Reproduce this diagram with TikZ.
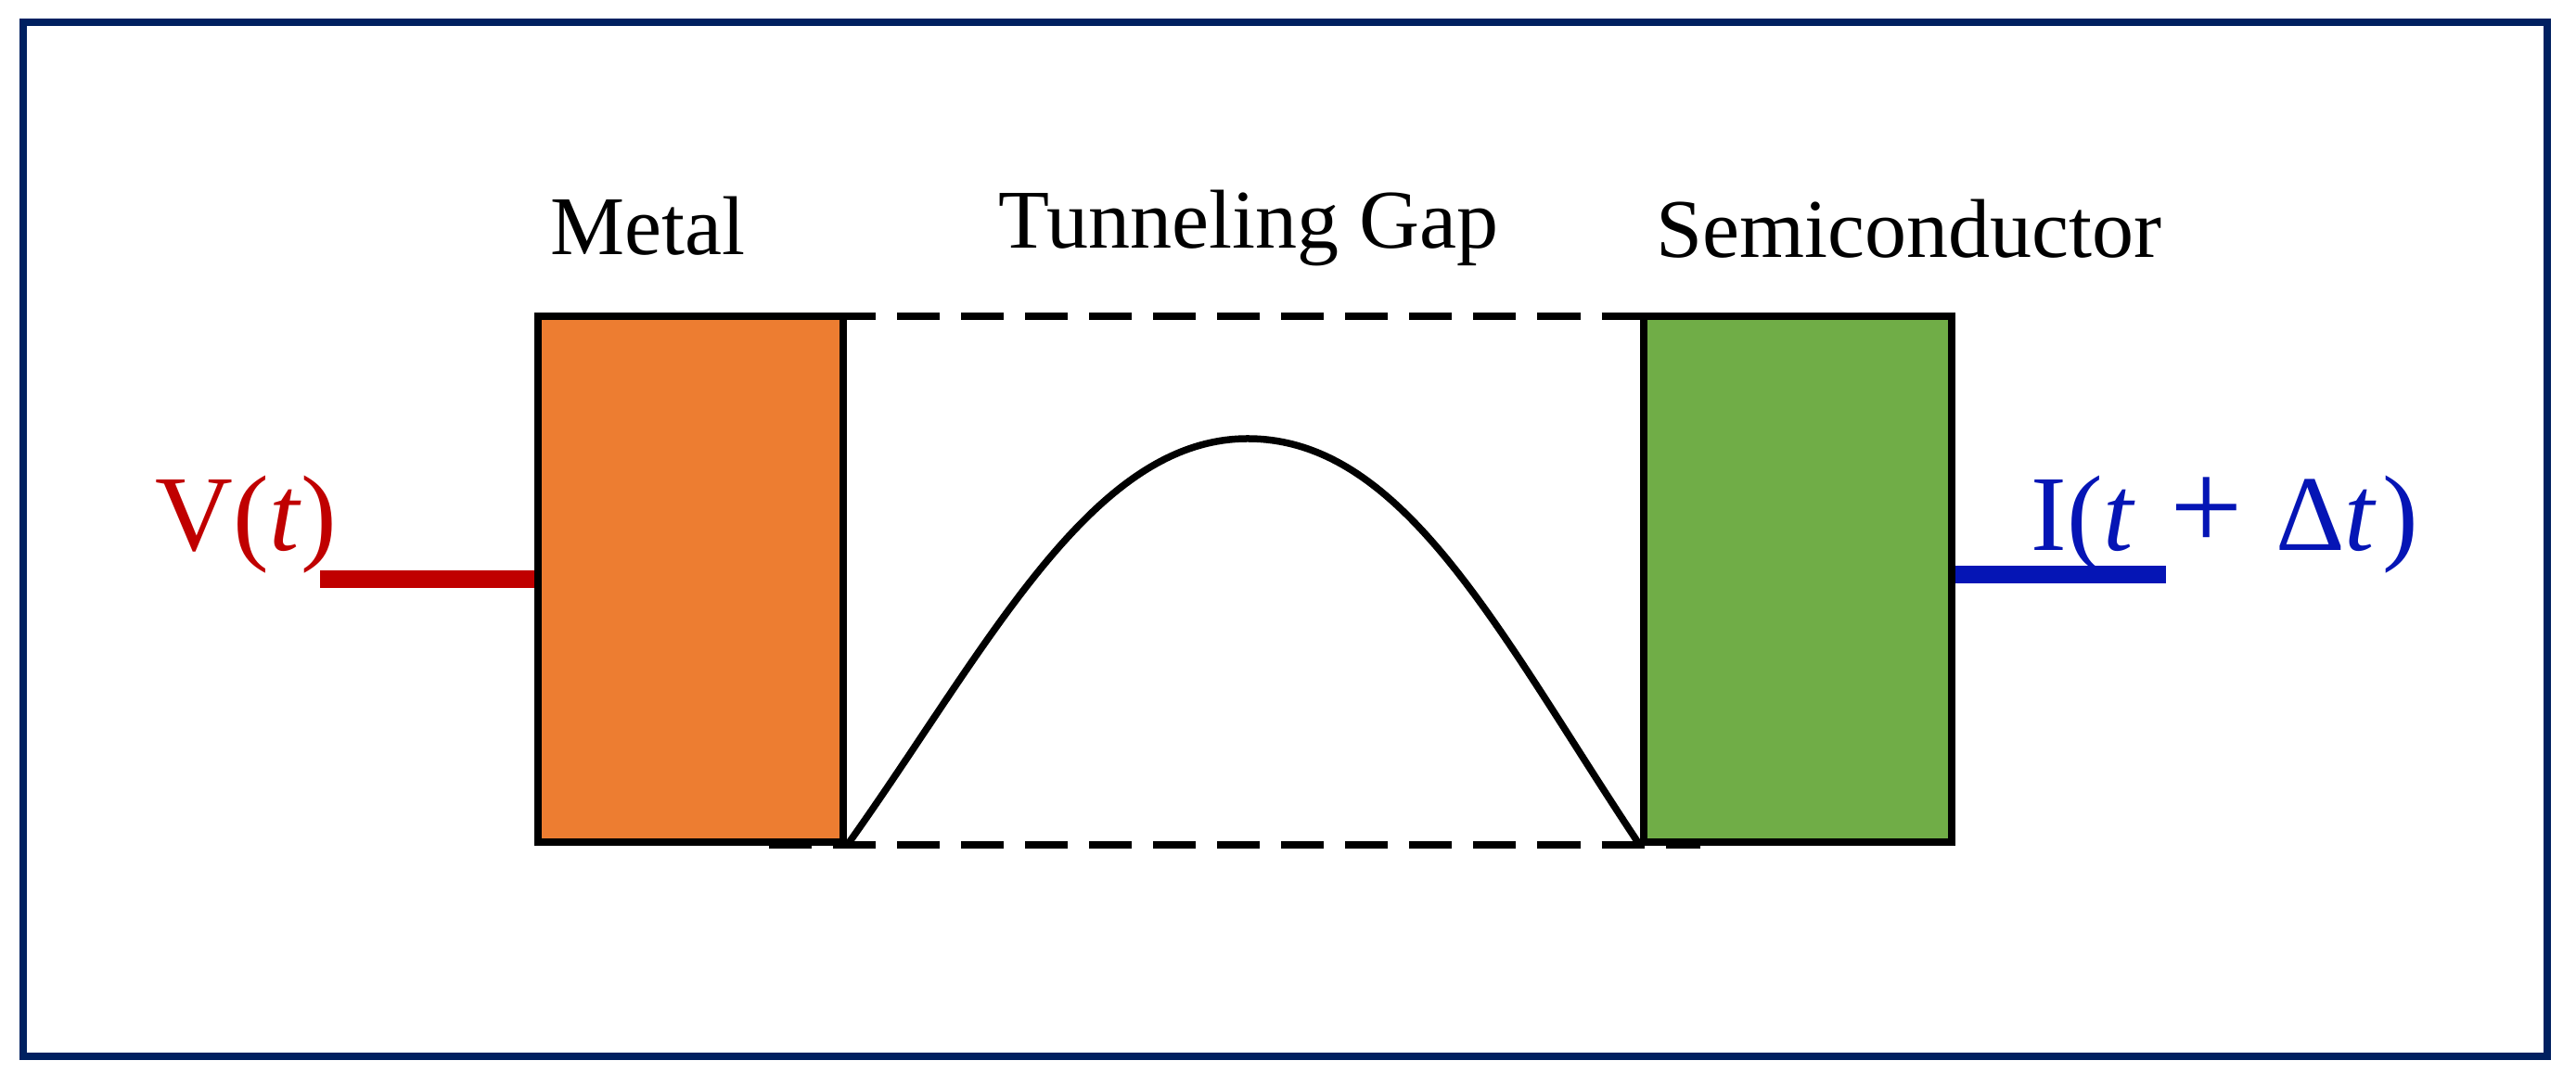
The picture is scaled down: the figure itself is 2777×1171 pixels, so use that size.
\documentclass[tikz,border=0pt]{standalone}
\usepackage{fontspec}
\setmainfont{Liberation Serif}
\definecolor{navy}{HTML}{002060}
\definecolor{metalc}{HTML}{ED7D31}
\definecolor{semic}{HTML}{70AD47}
\definecolor{vred}{HTML}{C00000}
\definecolor{iblue}{HTML}{0515B5}
\begin{document}
\begin{tikzpicture}[x=0.01cm,y=-0.01cm,
  thick line/.style={line width=0.075cm},
  blockbox/.style={draw=black,line width=0.075cm,inner sep=0pt,minimum height=5.67cm},
  gapline/.style={line width=0.075cm,dash pattern=on 0.46cm off 0.23cm},
  lead/.style={line width=0.19cm},
  lab/.style={font=\fontsize{25.6pt}{30pt}\selectfont,inner sep=0pt,anchor=base},
  sig/.style={font=\fontsize{33pt}{38pt}\selectfont,inner sep=0pt,anchor=base west}]
\useasboundingbox (0,0) rectangle (2777,1171);
% frame
\draw[navy,line width=0.08cm] (25,24) rectangle (2746,1139);
% blocks
\node[blockbox,fill=metalc,minimum width=3.29cm] (metal) at (744.5,624.5) {};
\node[blockbox,fill=semic,minimum width=3.32cm] (semi) at (1938,624.5) {};
% dashed gap lines
\coordinate (dtl) at (829,341);
\coordinate (dtr) at (1833,341);
\coordinate (dbl) at (829,911);
\coordinate (dbr) at (1833,911);
\draw[gapline] (dtl) -- (dtr);
\draw[gapline] (dbl) -- (dbr);
% barrier curve
\coordinate (peak) at (1345,473);
\draw[thick line] (metal.south east) .. controls +(150,-210) and +(-170,0) .. (peak)
  .. controls +(170,0) and +(-150,-225) .. (semi.south west);
% leads
\coordinate (vend) at (345,624.5);
\coordinate (iend) at (2335,620);
\draw[lead,vred] (metal.west) -- (vend);
\draw[lead,iblue] (semi.east |- iend) -- (iend);
% labels
\node[lab] (lmetal) at (698,275) {Metal};
\node[lab] (lgap) at (1346,268) {Tunneling Gap};
\node[lab] (lsemi) at (2058,278) {Semiconductor};
\node[sig,text=vred] (vlab) at (167,594) {V(\textit{t})};
\node[sig,text=iblue] (ilab) at (2189,594) {I(\textit{t}\hspace{0.33em}\scalebox{1.2}{+}\hspace{0.3em}Δ\textit{t}\hspace{0.05em})};
\end{tikzpicture}
\end{document}
